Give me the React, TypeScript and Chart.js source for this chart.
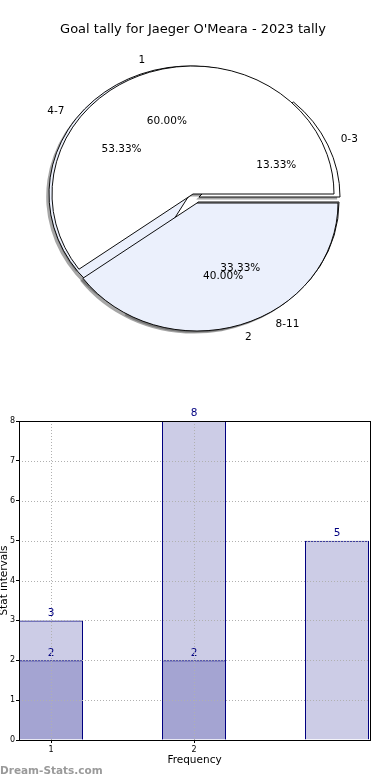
import React, { useEffect, useRef } from 'react';
import { Chart, registerables } from 'chart.js';

Chart.register(...registerables);

// ---------- data ----------
const TITLE = "Goal tally for Jaeger O'Meara - 2023 tally";
const PIE_A_LABELS = ['0-3', '4-7', '8-11'];
const PIE_A_VALUES = [2, 8, 5];
const PIE_B_LABELS = ['1', '2'];
const PIE_B_VALUES = [3, 2];
const BAR_X = [1, 2, 3];
const BAR_LIGHT = [3, 8, 5];
const BAR_DARK = [2, 2];
const X_TICKS = [1, 2];
const X_TICK_LABELS = ['1', '2'];
const X_TITLE = 'Frequency';
const Y_TITLE = 'Stat intervals';
const WATERMARK = 'Dream-Stats.com';

// ---------- styles ----------
const FONT = "'DejaVu Sans', sans-serif";
const PIE_RADIUS = 141;
const PIE_SY = 128 / 141;
const PIE_A_COLORS = ['#ffffff', '#ebf0fc', '#ffffff'];
const PIE_B_COLORS = ['#ffffff', '#ebf0fc'];
const PIE_A_EXPLODE = [[6, 3], [-3, 0], [5, 8]];
const PIE_B_EXPLODE = [[0, 0], [4, 9]];
const SHADOW_OFF = [-2.8, 2.6];
const BAR_FILL = 'rgba(0,0,128,0.2)';
const NAVY = '#000080';
const GRID_COLOR = '#b0b0b0';
const X_MIN = 1 - 32 / 143;
const X_MAX = X_MIN + 351 / 143;

type PieSpec = { labels: string[]; values: number[]; colors: string[]; explode: number[][] };
type PieSrc = { chart: Chart; spec: PieSpec };

function drawPieLabels(ctx: CanvasRenderingContext2D, src: PieSrc) {
  const spec = src.spec;
  const n = spec.values.length;
  const total = spec.values.reduce((a, b) => a + b, 0);
  const arcs = src.chart.getDatasetMeta(0).data as any[];
  arcs.forEach((arc, j) => {
    const i = n - 1 - j;
    const [dx, dy] = spec.explode[i];
    const mid = (arc.startAngle + arc.endAngle) / 2;
    const c = Math.cos(mid);
    const s = Math.sin(mid);
    const R = arc.outerRadius;
    ctx.textAlign = c > 0 ? 'left' : 'right';
    ctx.fillText(spec.labels[i], arc.x + dx + c * 1.1 * R, arc.y + dy + s * 1.1 * R * PIE_SY);
    ctx.textAlign = 'center';
    const pct = ((spec.values[i] / total) * 100).toFixed(2) + '%';
    ctx.fillText(pct, arc.x + dx + c * 0.6 * R, arc.y + dy + s * 0.6 * R * PIE_SY);
  });
}

function piePlugin(spec: PieSpec, shadowSources: (self: Chart) => PieSrc[], labelSources: (self: Chart) => PieSrc[]) {
  const n = spec.values.length;
  return {
    id: 'pieDraw',
    beforeDatasetsDraw(chart: any) {
      const ctx = chart.ctx as CanvasRenderingContext2D;
      const arcs = chart.getDatasetMeta(0).data as any[];
      if (!arcs.length) return false;
      const cx = arcs[0].x;
      const cy = arcs[0].y;
      ctx.save();
      ctx.translate(cx, cy);
      ctx.scale(1, PIE_SY);
      ctx.translate(-cx, -cy);
      ctx.fillStyle = 'rgba(77,77,77,0.5)';
      for (const src of shadowSources(chart)) {
        const sa = src.chart.getDatasetMeta(0).data as any[];
        const m = src.spec.values.length;
        sa.forEach((arc, j) => {
          const i = m - 1 - j;
          const [dx, dy] = src.spec.explode[i];
          const ox = arc.x + dx + SHADOW_OFF[0];
          const oy = arc.y + (dy + SHADOW_OFF[1]) / PIE_SY;
          ctx.beginPath();
          ctx.moveTo(ox, oy);
          ctx.arc(ox, oy, arc.outerRadius, arc.startAngle, arc.endAngle);
          ctx.closePath();
          ctx.fill();
        });
      }
      arcs.forEach((arc, j) => {
        const i = n - 1 - j;
        const [dx, dy] = spec.explode[i];
        ctx.save();
        ctx.translate(dx, dy / PIE_SY);
        arc.draw(ctx);
        ctx.restore();
      });
      ctx.restore();
      return false;
    },
    afterDraw(chart: any) {
      const ctx = chart.ctx as CanvasRenderingContext2D;
      ctx.save();
      ctx.font = `10.5px ${FONT}`;
      ctx.fillStyle = '#000';
      ctx.textBaseline = 'middle';
      for (const src of labelSources(chart)) drawPieLabels(ctx, src);
      ctx.restore();
    },
  };
}

function pieConfig(spec: PieSpec, titleColor: string, plugin: any): any {
  const order = spec.values.map((_, i) => i).reverse();
  return {
    type: 'pie',
    data: {
      labels: order.map((i) => spec.labels[i]),
      datasets: [
        {
          data: order.map((i) => spec.values[i]),
          backgroundColor: order.map((i) => spec.colors[i]),
          borderColor: '#000',
          borderWidth: 1,
          hoverOffset: 0,
          offset: 0,
        },
      ],
    },
    options: {
      animation: false,
      responsive: false,
      events: [],
      radius: PIE_RADIUS,
      rotation: 90,
      layout: { padding: { left: 0, right: 4, top: 0, bottom: 39.6 } },
      plugins: {
        legend: { display: false },
        tooltip: { enabled: false },
        title: {
          display: true,
          text: TITLE,
          color: titleColor,
          font: { family: FONT, size: 13, weight: 'normal' },
          padding: { top: 22, bottom: 0 },
        },
      },
    },
    plugins: [plugin],
  };
}

const barPlugin = {
  id: 'barExtras',
  afterDatasetsDraw(chart: any) {
    const ctx = chart.ctx as CanvasRenderingContext2D;
    const { left, top, right, bottom } = chart.chartArea;
    ctx.save();
    ctx.font = `10.5px ${FONT}`;
    ctx.fillStyle = NAVY;
    ctx.textAlign = 'center';
    ctx.textBaseline = 'bottom';
    chart.data.datasets.forEach((ds: any, di: number) => {
      const meta = chart.getDatasetMeta(di);
      meta.data.forEach((bar: any, i: number) => {
        ctx.fillText(String(ds.data[i].y), bar.x, bar.y - 2);
      });
    });
    ctx.strokeStyle = GRID_COLOR;
    ctx.lineWidth = 1;
    ctx.setLineDash([1, 2]);
    const xs = chart.scales.x;
    const ys = chart.scales.y;
    ctx.beginPath();
    xs.ticks.forEach((t: any) => {
      const px = Math.round(xs.getPixelForValue(t.value)) + 0.5;
      ctx.moveTo(px, top);
      ctx.lineTo(px, bottom);
    });
    ys.ticks.forEach((t: any) => {
      const py = Math.round(ys.getPixelForValue(t.value)) + 0.5;
      ctx.moveTo(left, py);
      ctx.lineTo(right, py);
    });
    ctx.stroke();
    ctx.restore();
  },
  afterDraw(chart: any) {
    const ctx = chart.ctx as CanvasRenderingContext2D;
    const { left, top, right, bottom } = chart.chartArea;
    ctx.save();
    ctx.strokeStyle = '#000';
    ctx.lineWidth = 1;
    ctx.strokeRect(Math.round(left) + 0.5, Math.round(top) + 0.5, Math.round(right - left), Math.round(bottom - top));
    ctx.font = `bold 10.5px ${FONT}`;
    ctx.fillStyle = '#9a9a9a';
    ctx.textAlign = 'left';
    ctx.textBaseline = 'middle';
    ctx.fillText(WATERMARK, 0, chart.height - 9);
    ctx.restore();
  },
};

function barConfig(): any {
  const common = {
    backgroundColor: BAR_FILL,
    borderColor: NAVY,
    borderWidth: 1,
    inflateAmount: 0,
    grouped: false,
    barThickness: 64,
  };
  const tickFont = { family: FONT, size: 8 };
  const grid = { drawOnChartArea: false, drawTicks: true, tickLength: 3, tickColor: '#000', offset: false };
  const border = { display: false };
  return {
    type: 'bar',
    data: {
      datasets: [
        { label: 'b', data: BAR_DARK.map((y, i) => ({ x: BAR_X[i], y })), ...common },
        { label: 'a', data: BAR_LIGHT.map((y, i) => ({ x: BAR_X[i], y })), ...common },
      ],
    },
    options: {
      animation: false,
      responsive: false,
      events: [],
      layout: { padding: { top: 31, right: 20, left: 0, bottom: 0 } },
      plugins: { legend: { display: false }, tooltip: { enabled: false } },
      scales: {
        x: {
          type: 'linear',
          offset: false,
          min: X_MIN,
          max: X_MAX,
          afterBuildTicks: (s: any) => {
            s.ticks = X_TICKS.map((v) => ({ value: v }));
          },
          afterFit: (s: any) => {
            s.height = 40;
          },
          ticks: {
            autoSkip: false,
            maxRotation: 0,
            padding: 2,
            color: '#000',
            font: tickFont,
            callback: (v: number) => {
              const k = X_TICKS.indexOf(v);
              return k >= 0 ? X_TICK_LABELS[k] : '';
            },
          },
          grid,
          border,
          title: {
            display: true,
            text: X_TITLE,
            color: '#000',
            font: { family: FONT, size: 10.5 },
            padding: { top: 0, bottom: 13 },
          },
        },
        y: {
          min: 0,
          max: 8,
          afterFit: (s: any) => {
            s.width = 19;
          },
          ticks: { stepSize: 1, padding: 1, color: '#000', font: tickFont },
          grid,
          border,
          title: {
            display: true,
            text: Y_TITLE,
            color: '#000',
            font: { family: FONT, size: 10.5 },
            padding: { top: -2, bottom: 0 },
          },
        },
      },
    },
    plugins: [barPlugin],
  };
}

export default function App() {
  const pieARef = useRef<HTMLCanvasElement>(null);
  const pieBRef = useRef<HTMLCanvasElement>(null);
  const barRef = useRef<HTMLCanvasElement>(null);

  useEffect(() => {
    const specA: PieSpec = { labels: PIE_A_LABELS, values: PIE_A_VALUES, colors: PIE_A_COLORS, explode: PIE_A_EXPLODE };
    const specB: PieSpec = { labels: PIE_B_LABELS, values: PIE_B_VALUES, colors: PIE_B_COLORS, explode: PIE_B_EXPLODE };
    let chartA: Chart | null = null;
    const chartB = new Chart(
      pieBRef.current!,
      pieConfig(
        specB,
        'rgba(0,0,0,0)',
        piePlugin(
          specB,
          () => [],
          (self) => (chartA ? [{ chart: chartA, spec: specA }, { chart: self, spec: specB }] : [{ chart: self, spec: specB }])
        )
      )
    );
    chartA = new Chart(
      pieARef.current!,
      pieConfig(
        specA,
        '#000',
        piePlugin(
          specA,
          (self) => [
            { chart: self, spec: specA },
            { chart: chartB, spec: specB },
          ],
          () => []
        )
      )
    );
    chartB.draw();
    const bar = new Chart(barRef.current!, barConfig());
    return () => {
      chartA?.destroy();
      chartB.destroy();
      bar.destroy();
    };
  }, []);

  const cv: React.CSSProperties = { position: 'absolute', left: 0, width: 390, height: 390, display: 'block' };
  return (
    <div style={{ position: 'absolute', left: 0, top: 0, width: 390, height: 780, background: '#fff', overflow: 'hidden' }}>
      <canvas ref={pieARef} width={390} height={390} style={{ ...cv, top: 0 }} />
      <canvas ref={pieBRef} width={390} height={390} style={{ ...cv, top: 0 }} />
      <canvas ref={barRef} width={390} height={390} style={{ ...cv, top: 390 }} />
    </div>
  );
}
